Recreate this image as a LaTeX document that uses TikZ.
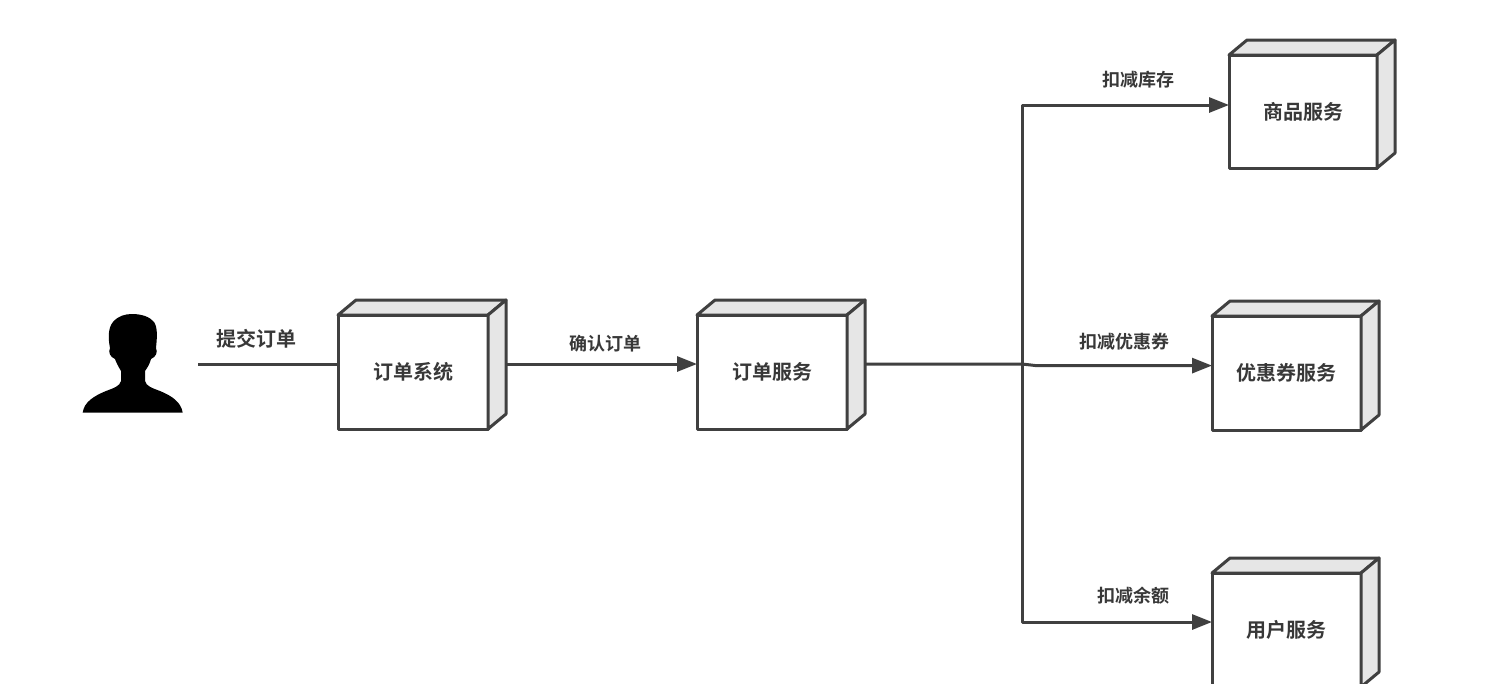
\documentclass[tikz,border=0pt]{standalone}
\usepackage{fontspec}
\setmainfont{Noto Sans CJK SC}[BoldFont={Noto Sans CJK SC Bold}]
\usetikzlibrary{arrows.meta}
\definecolor{ink}{HTML}{404040}
\definecolor{txt}{HTML}{383838}
\definecolor{face}{HTML}{E6E6E6}
\tikzset{
  box3d/.style={draw=ink,line width=3pt,fill=white,line join=round,inner sep=0pt,outer sep=0pt,
    minimum width=150pt,minimum height=114pt,text=txt,font=\fontsize{20}{24}\selectfont\bfseries},
  boxface/.style={draw=ink,line width=3pt,fill=face,line join=round},
  conn/.style={draw=ink,line width=3pt,line join=round},
  flow/.style={conn,-{Triangle[length=20pt,width=15pt]}},
  biglabel/.style={text=txt,inner sep=0pt,font=\fontsize{20}{24}\selectfont\bfseries},
  lab/.style={text=txt,inner sep=0pt,font=\fontsize{18}{22}\selectfont\bfseries}
}
\newcommand{\boxfaces}[2][8pt]{%
  \draw[boxface] (#2.north west) -- ([shift={(18pt,15pt)}]#2.north west) -- ([shift={(18pt,15pt)}]#2.north east) -- (#2.north east) -- cycle;
  \draw[boxface] (#2.north east) -- ([shift={(18pt,15pt)}]#2.north east) -- ([shift={(18pt,15pt)}]#2.south east) -- (#2.south east) -- cycle;
  \coordinate (#2-in) at ([yshift=#1]#2.west);
  \coordinate (#2-out) at ([shift={(18pt,#1)}]#2.east);
}
\begin{document}
\begin{tikzpicture}[x=1pt,y=-1pt]
\useasboundingbox (0,0) rectangle (1495,683);
\fill[white] (0,0) rectangle (1495,683);
\clip (0,0) rectangle (1495,683);
% person
\fill[black] (82.7,412.7) .. controls (84,402) and (94,396) .. (106,391)
  .. controls (114,388) and (120,386) .. (121,381) -- (121,371)
  .. controls (118,366) and (116,362) .. (115,359)
  .. controls (110,357) and (108,352) .. (110,348)
  .. controls (108,338) and (108,328) .. (113,322)
  .. controls (118,316) and (125,314) .. (132,314)
  .. controls (142,314) and (150,317) .. (154,322)
  .. controls (158,328) and (157,338) .. (156,348)
  .. controls (158,352) and (156,357) .. (151,359)
  .. controls (150,363) and (148,367) .. (145,371) -- (145,381)
  .. controls (146,386) and (152,388) .. (160,391)
  .. controls (172,396) and (181,402) .. (182.7,412.7) -- cycle;
\coordinate (userend) at (198,364);
\coordinate (trunk) at (1022,364);
\coordinate (step) at (1036,365.6);
% boxes
\node[box3d] (sys) at (413,372) {订单系统};
\boxfaces{sys}
\node[box3d] (svc) at (772,372) {订单服务};
\boxfaces{svc}
\node[box3d,minimum width=148pt,minimum height=113pt] (goods) at (1303,111.5) {商品服务};
\boxfaces[6.5pt]{goods}
\node[box3d,minimum width=149pt] (coupon) at (1286.5,373) {优惠券服务};
\boxfaces[7.4pt]{coupon}
\node[box3d,minimum width=149pt] (user) at (1286.5,630) {用户服务};
\boxfaces{user}
% connectors
\draw[conn] (userend) -- (sys-in);
\draw[flow] (sys-out) -- (svc-in);
\draw[flow] (svc-out) -- (trunk) -- (step) -- (coupon-in);
\draw[flow] (trunk) -- (trunk |- goods-in) -- (goods-in);
\draw[flow] (trunk) -- (trunk |- user-in) -- (user-in);
% labels
\node[biglabel] (l1) at (256,339) {提交订单};
\node[lab] (l2) at (605.5,344) {确认订单};
\node[lab] (l3) at (1138.5,80) {扣减库存};
\node[lab] (l4) at (1124.5,342) {扣减优惠券};
\node[lab] (l5) at (1133.5,596) {扣减余额};
\end{tikzpicture}
\end{document}
